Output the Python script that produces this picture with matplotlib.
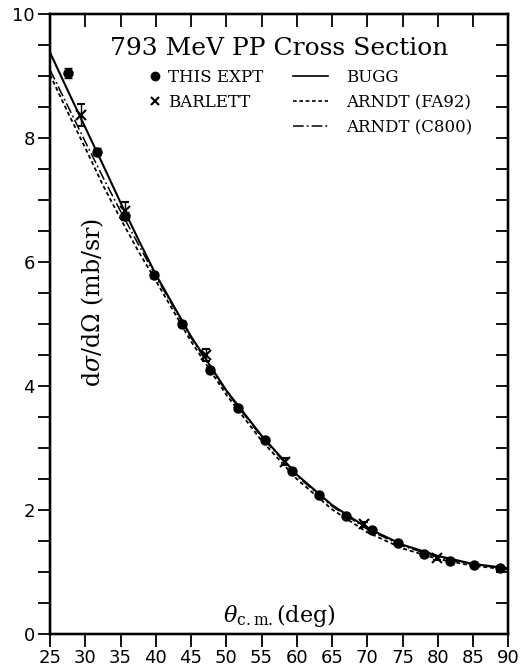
import matplotlib
matplotlib.use("Agg")
from matplotlib import pyplot as plt
from matplotlib.lines import Line2D
import numpy as np

# measured points (angle in deg, cross section in mb/sr)
expt_theta = [27.6, 31.7, 35.6, 39.75, 43.7, 47.7, 51.6, 55.5, 59.3, 63.2,
              67.0, 70.7, 74.3, 78.0, 81.7, 85.2, 88.8]
expt_sigma = [9.05, 7.78, 6.74, 5.79, 5.00, 4.26, 3.64, 3.13, 2.63, 2.24,
              1.91, 1.67, 1.46, 1.29, 1.18, 1.11, 1.06]
expt_err = [0.08, 0.06, 0.06, 0.05, 0.05, 0.04, 0.04, 0.03, 0.03, 0.03,
            0.02, 0.02, 0.02, 0.02, 0.02, 0.02, 0.02]

barlett_theta = [29.4, 35.6, 47.1, 58.3, 69.5, 79.9]
barlett_sigma = [8.37, 6.82, 4.50, 2.78, 1.77, 1.23]
barlett_err = [0.18, 0.15, 0.10, 0.06, 0.04, 0.03]

# phase shift predictions
curve_theta = [25, 27.5, 30, 32.5, 35, 37.5, 40, 45, 50, 55, 60, 65, 70, 75, 80, 85, 90]
bugg = [9.38, 8.77, 8.17, 7.57, 6.96, 6.37, 5.80, 4.80, 3.93, 3.20, 2.57, 2.08,
        1.71, 1.44, 1.26, 1.13, 1.06]
fa92 = [9.02, 8.42, 7.84, 7.24, 6.70, 6.18, 5.70, 4.72, 3.86, 3.12, 2.50, 2.01,
        1.64, 1.38, 1.21, 1.10, 1.04]
c800 = [9.10, 8.52, 7.94, 7.37, 6.82, 6.29, 5.77, 4.78, 3.91, 3.18, 2.55, 2.06,
        1.69, 1.42, 1.24, 1.12, 1.05]

plt.rcParams['font.family'] = 'DejaVu Serif'
plt.rcParams['mathtext.fontset'] = 'dejavuserif'

fig = plt.figure(figsize=(5.24, 6.68), dpi=100)
ax = fig.add_axes([50/524, 34/668, 458.3/524, 620/668])

ax.plot(curve_theta, bugg, color='black', lw=1.5, ls='-')
ax.plot(curve_theta, fa92, color='black', lw=1.3, ls=(0, (2.2, 1.6)))
ax.plot(curve_theta, c800, color='black', lw=1.1, ls=(0, (7, 2, 1.2, 2)))

ax.errorbar(expt_theta, expt_sigma, yerr=expt_err, fmt='o', color='black',
            ms=6.5, capsize=3, elinewidth=1, capthick=1)
ax.errorbar(barlett_theta, barlett_sigma, yerr=barlett_err, fmt='x', color='black',
            ms=6.5, mew=1.5, capsize=3, elinewidth=1, capthick=1)

xt = np.arange(25, 91, 5)
ax.set_xlim(25, 90)
ax.set_ylim(0, 10)
ax.set_xticks(xt)
ax.set_yticks([0, 2, 4, 6, 8, 10])
ax.set_yticks(np.arange(0, 10.01, 0.5), minor=True)
ax.tick_params(axis='both', which='major', direction='out', length=9, width=1.3,
               labelsize=13, labelfontfamily='DejaVu Sans', pad=2)
ax.tick_params(axis='y', which='minor', direction='out', length=9, width=1.3)
for s in ax.spines.values():
    s.set_linewidth(1.6)

# inward ticks on top and right
axt = ax.twiny()
axt.set_xlim(25, 90)
axt.set_xticks(xt)
axt.tick_params(direction='in', length=9, width=1.3, labeltop=False)
axr = ax.twinx()
axr.set_ylim(0, 10)
axr.set_yticks(np.arange(0, 10.01, 0.5))
axr.tick_params(direction='in', length=9, width=1.3, labelright=False)
for a in (axt, axr):
    for s in a.spines.values():
        s.set_linewidth(1.6)

ax.text(0.5, 0.945, '793 MeV PP Cross Section', transform=ax.transAxes,
        ha='center', va='center', fontsize=18)
ax.text(0.093, 0.535, r'd$\sigma$/d$\Omega$ (mb/sr)', transform=ax.transAxes,
        rotation=90, ha='center', va='center', fontsize=17)
ax.text(0.50, 0.03, r'$\theta_{\rm c.m.}$(deg)', transform=ax.transAxes,
        ha='center', va='center', fontsize=16)

h1 = [Line2D([], [], marker='o', ls='none', color='black', ms=6),
      Line2D([], [], marker='x', ls='none', color='black', ms=5.5, mew=1.5)]
leg1 = ax.legend(h1, ['THIS EXPT', 'BARLETT'], loc='upper left',
                 bbox_to_anchor=(0.218, 0.912), frameon=False, fontsize=12,
                 handlelength=0.6, handletextpad=0.5, labelspacing=0.5,
                 borderaxespad=0, borderpad=0)
ax.add_artist(leg1)
h2 = [Line2D([], [], color='black', lw=1.2, ls='-'),
      Line2D([], [], color='black', lw=1.2, ls=(0, (2.2, 1.6))),
      Line2D([], [], color='black', lw=1.1, ls=(0, (7, 2, 1.2, 2)))]
ax.legend(h2, ['BUGG', 'ARNDT (FA92)', 'ARNDT (C800)'], loc='upper left',
          bbox_to_anchor=(0.53, 0.912), frameon=False, fontsize=12,
          handlelength=2.1, handletextpad=1.1, labelspacing=0.5,
          borderaxespad=0, borderpad=0)

fig.savefig('out.png', dpi=100)
